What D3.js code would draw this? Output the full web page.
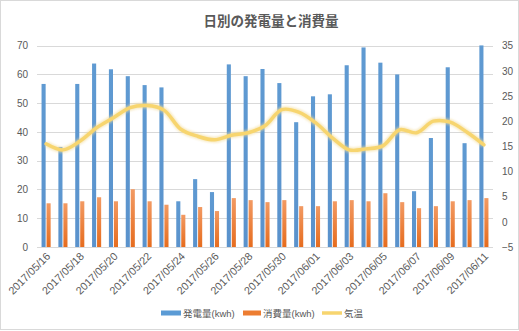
<!DOCTYPE html>
<html><head><meta charset="utf-8">
<script src="https://cdn.jsdelivr.net/npm/d3@7"></script>
<style>
body{margin:0;background:#fff;}
svg{display:block;font-family:"Liberation Sans","Noto Sans CJK JP",sans-serif;}
</style></head>
<body><svg id="c" width="519" height="331"></svg>
<script>
const dates = ["2017/05/16","2017/05/17","2017/05/18","2017/05/19","2017/05/20","2017/05/21","2017/05/22","2017/05/23","2017/05/24","2017/05/25","2017/05/26","2017/05/27","2017/05/28","2017/05/29","2017/05/30","2017/05/31","2017/06/01","2017/06/02","2017/06/03","2017/06/04","2017/06/05","2017/06/06","2017/06/07","2017/06/08","2017/06/09","2017/06/10","2017/06/11"];
const generation = [56.7,34.8,56.7,63.8,61.8,59.4,56.3,55.5,15.9,23.6,19.1,63.5,59.4,61.9,57.0,43.4,52.4,53.1,63.2,69.4,64.1,60.0,19.4,37.9,62.5,36.1,70.1];
const consumption = [15.2,15.2,15.9,17.3,15.9,20.1,15.9,14.7,11.2,13.9,12.5,17.0,16.3,15.6,16.3,14.2,14.2,15.9,16.3,15.9,18.7,15.6,13.5,14.2,15.9,16.3,17.0];
const temperature = [15.5,14.3,16.0,18.7,20.7,22.7,23.1,22.2,18.4,17.0,16.3,17.2,17.7,19.1,22.3,21.8,19.7,16.7,14.3,14.5,15.1,18.3,17.7,20.0,19.8,17.8,15.3];
const leftTicks = [0,10,20,30,40,50,60,70];
const rightTicks = [-5,0,5,10,15,20,25,30,35];
const seriesNames = ["発電量(kwh)","消費量(kwh)","気温"];
const title = "日別の発電量と消費量";

const svg = d3.select("#c");
const L = 37, R = 493, T = 45.7, B = 247;
const x = d3.scaleBand().domain(dates).range([L, R]).paddingInner(0.46).paddingOuter(0.27);
const x1 = d3.scaleBand().domain(["g","c"]).range([0, x.bandwidth()]).paddingInner(0.18);
const y = d3.scaleLinear().domain([0,70]).range([B, T]);
const y2 = d3.scaleLinear().domain([-5,35]).range([B, T]);

svg.append("rect").attr("x",0.5).attr("y",0.5).attr("width",518).attr("height",329)
  .attr("fill","#fff").attr("stroke","#d9d9d9");

const defs = svg.append("defs");
const og = defs.append("linearGradient").attr("id","og").attr("x1",0).attr("y1",0).attr("x2",0).attr("y2",1);
og.append("stop").attr("offset",0).attr("stop-color","#f29a63");
og.append("stop").attr("offset",1).attr("stop-color","#e66c1e");
const bg = defs.append("linearGradient").attr("id","bg").attr("x1",0).attr("y1",0).attr("x2",0).attr("y2",1);
bg.append("stop").attr("offset",0).attr("stop-color","#5f9ad2");
bg.append("stop").attr("offset",1).attr("stop-color","#5a92cc");
const blur = defs.append("filter").attr("id","glow").attr("x","-10%").attr("y","-50%").attr("width","120%").attr("height","200%");
blur.append("feGaussianBlur").attr("stdDeviation",1.2);

// grid
svg.append("g").selectAll("line").data(leftTicks).join("line")
  .attr("x1",L).attr("x2",R).attr("y1",d=>Math.round(y(d))+0.5).attr("y2",d=>Math.round(y(d))+0.5)
  .attr("stroke","#d9d9d9").attr("stroke-width",1);

// left axis
const la = svg.append("g").attr("transform",`translate(${L},0)`)
  .call(d3.axisLeft(y).tickValues(leftTicks).tickSize(0).tickPadding(9));
la.select(".domain").remove();
la.selectAll("text").attr("fill","#595959").attr("font-size",10).attr("font-family","Liberation Sans, sans-serif");

// right axis
const ra = svg.append("g").attr("transform",`translate(${R},0)`)
  .call(d3.axisRight(y2).tickValues(rightTicks).tickSize(0).tickPadding(9));
ra.select(".domain").remove();
ra.selectAll("text").attr("fill","#595959").attr("font-size",10).attr("font-family","Liberation Sans, sans-serif");

// x axis labels
const xa = svg.append("g").attr("transform",`translate(0,${B})`)
  .call(d3.axisBottom(x).tickValues(dates.filter((d,i)=>i%2===0)).tickSize(0).tickPadding(0));
xa.select(".domain").remove();
xa.selectAll("text").attr("fill","#595959").attr("font-size",10.8)
  .attr("text-anchor","end").attr("dy",0)
  .attr("transform","translate(5,10) rotate(-45)");

// bars
const g = svg.append("g");
g.selectAll("rect.g").data(dates).join("rect").attr("class","g")
  .attr("x",(d)=>x(d)+x1("g")).attr("width",x1.bandwidth())
  .attr("y",(d,i)=>y(generation[i])).attr("height",(d,i)=>y(0)-y(generation[i]))
  .attr("fill","url(#bg)");
g.selectAll("rect.c").data(dates).join("rect").attr("class","c")
  .attr("x",(d)=>x(d)+x1("c")).attr("width",x1.bandwidth())
  .attr("y",(d,i)=>y(consumption[i])).attr("height",(d,i)=>y(0)-y(consumption[i]))
  .attr("fill","url(#og)");

// line
const line = d3.line().x((d,i)=>x(dates[i])+x.bandwidth()/2).y(d=>y2(d)).curve(d3.curveCatmullRom.alpha(0.5));
svg.append("path").datum(temperature).attr("d",line).attr("fill","none")
  .attr("stroke","#f3dc9a").attr("stroke-width",6).attr("opacity",0.6).attr("filter","url(#glow)");
svg.append("path").datum(temperature).attr("d",line).attr("fill","none")
  .attr("stroke","#f7d56f").attr("stroke-width",3.5).attr("stroke-linejoin","round").attr("stroke-linecap","round");

// title
svg.append("text").attr("x",271).attr("y",26).attr("text-anchor","middle")
  .attr("font-size",13.5).attr("font-weight","bold").attr("fill","#595959")
  .attr("font-family","Noto Sans CJK JP, sans-serif").text(title);

// legend
const lg = svg.append("g").attr("font-size",9.5).attr("fill","#595959");
const items = [
  {name:seriesNames[0], x:161, type:"rect", color:"#5b9bd5", w:20},
  {name:seriesNames[1], x:243, type:"rect", color:"#ed7d31", w:18},
  {name:seriesNames[2], x:322, type:"line", color:"#f7d56f", w:20}
];
items.forEach(it=>{
  if(it.type==="rect"){
    lg.append("rect").attr("x",it.x).attr("y",310.5).attr("width",it.w).attr("height",5).attr("fill",it.color);
  } else {
    lg.append("line").attr("x1",it.x).attr("x2",it.x+it.w).attr("y1",313).attr("y2",313)
      .attr("stroke",it.color).attr("stroke-width",3.5);
  }
  lg.append("text").attr("x",it.x+it.w+2).attr("y",316.5).text(it.name).attr("fill","#595959");
});
</script></body></html>
